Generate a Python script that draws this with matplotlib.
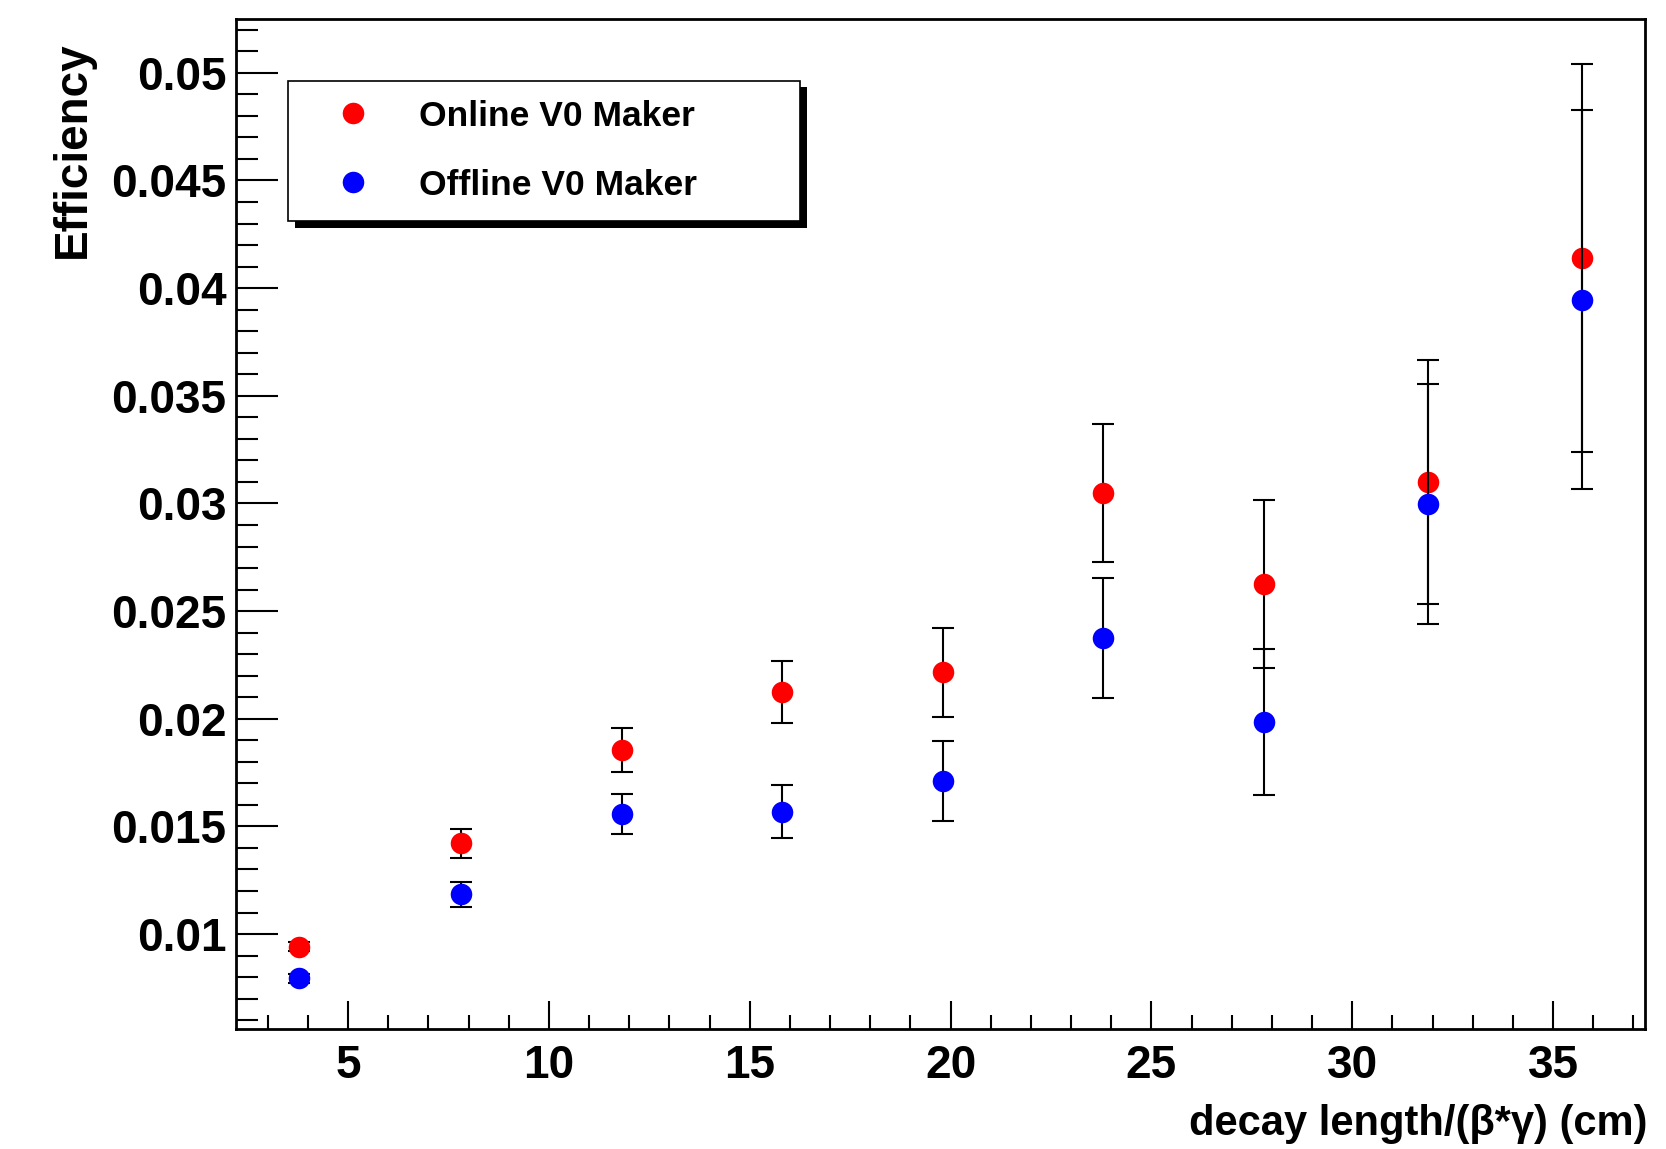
import matplotlib
matplotlib.use("Agg")
import matplotlib.pyplot as plt
import matplotlib.patheffects as pe
from matplotlib.ticker import MultipleLocator, FuncFormatter

plt.rcParams['font.family'] = ['Liberation Sans', 'DejaVu Sans']
plt.rcParams['font.weight'] = 'bold'

# decay length / (beta*gamma) bin centres (cm)
x_vals = [3.77, 7.80, 11.83, 15.80, 19.82, 23.79, 27.81, 31.89, 35.71]

# Online V0 Maker
online_eff = [0.00941, 0.01421, 0.01855, 0.02123, 0.02216, 0.03049, 0.02626, 0.03101, 0.04139]
online_err = [0.0002, 0.00067, 0.00104, 0.00145, 0.00206, 0.0032, 0.0039, 0.00567, 0.0090]

# Offline V0 Maker
offline_eff = [0.00794, 0.01184, 0.01556, 0.01568, 0.01711, 0.02377, 0.01986, 0.02996, 0.03945]
offline_err = [0.0002, 0.00056, 0.00093, 0.00124, 0.00184, 0.00279, 0.0034, 0.00557, 0.0088]

fig = plt.figure(figsize=(16.66, 11.49), dpi=100)
ax = fig.add_axes([0.1417, 0.1044, 0.9874 - 0.1417, 0.9835 - 0.1044])

ax.errorbar(x_vals, online_eff, yerr=online_err, fmt='none', ecolor='black',
            elinewidth=1.5, capsize=8, capthick=1.5, zorder=2)
ax.plot(x_vals, online_eff, 'o', color='red', markersize=15.5, markeredgewidth=0,
        label='Online V0 Maker', zorder=3)
ax.errorbar(x_vals, offline_eff, yerr=offline_err, fmt='none', ecolor='black',
            elinewidth=1.5, capsize=8, capthick=1.5, zorder=4)
ax.plot(x_vals, offline_eff, 'o', color='blue', markersize=15.5, markeredgewidth=0,
        label='Offline V0 Maker', zorder=5)

ax.set_xlim(2.21, 37.29)
ax.set_ylim(0.00559, 0.0525)

ax.xaxis.set_major_locator(MultipleLocator(5))
ax.xaxis.set_minor_locator(MultipleLocator(1))
ax.yaxis.set_major_locator(MultipleLocator(0.005))
ax.yaxis.set_minor_locator(MultipleLocator(0.001))
ax.yaxis.set_major_formatter(FuncFormatter(lambda v, p: '%g' % round(v, 4)))

ax.tick_params(axis='both', which='both', direction='in', top=False, right=False,
               labelsize=33, width=1.5)
ax.tick_params(axis='y', which='major', length=30, pad=7)
ax.tick_params(axis='y', which='minor', length=16)
ax.tick_params(axis='x', which='major', length=20, pad=11)
ax.tick_params(axis='x', which='minor', length=10)
for s in ax.spines.values():
    s.set_linewidth(2)

leg = ax.legend(loc='upper left', bbox_to_anchor=(0.0369, 0.939, 0.3634, 0.0),
                mode='expand', fontsize=25.5, frameon=True, fancybox=False,
                borderpad=0.54, labelspacing=1.02, handlelength=2.56,
                handletextpad=0.61, borderaxespad=0, numpoints=1)
frame = leg.get_frame()
frame.set_edgecolor('black')
frame.set_linewidth(1.2)
frame.set_alpha(1)
frame.set_path_effects([pe.SimplePatchShadow(offset=(5.3, -4.8), shadow_rgbFace='black', alpha=1),
                        pe.Normal()])

fig.text(0.9886, 0.012, 'decay length/(\u03b2*\u03b3) (cm)', fontsize=30,
         ha='right', va='baseline')
fig.text(0.0440, 0.9637, 'Efficiency', fontsize=33, rotation=90, ha='center', va='top')

fig.savefig('out.png', dpi=100)
